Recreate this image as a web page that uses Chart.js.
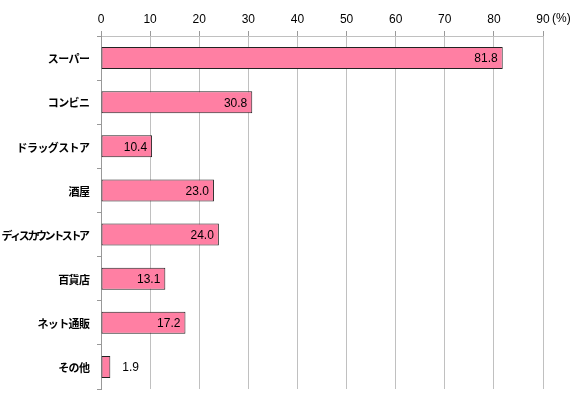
<!DOCTYPE html>
<html>
<head>
<meta charset="utf-8">
<script src="https://cdn.jsdelivr.net/npm/chart.js@4.4.0/dist/chart.umd.min.js"></script>
<style>
  html, body { margin: 0; padding: 0; background: #fff; }
  #wrap { position: relative; width: 576px; height: 394px; }
</style>
</head>
<body>
<div id="wrap"><canvas id="chart" width="576" height="394"></canvas></div>
<script>
const categories = ['スーパー', 'コンビニ', 'ドラッグストア', '酒屋', 'ディスカウントストア', '百貨店', 'ネット通販', 'その他'];
const values = [81.8, 30.8, 10.4, 23.0, 24.0, 13.1, 17.2, 1.9];
const xTicks = [0, 10, 20, 30, 40, 50, 60, 70, 80, 90];
const unitLabel = '(%)';

const numFont = '"Liberation Sans", Arial, sans-serif';
const jpFont = '"Noto Sans CJK JP", sans-serif';

// value labels at bar ends, inside unless the bar is too short
const barLabels = {
  id: 'barLabels',
  afterDatasetsDraw(chart) {
    const ctx = chart.ctx;
    const meta = chart.getDatasetMeta(0);
    ctx.save();
    ctx.font = '12px ' + numFont;
    ctx.fillStyle = '#000';
    ctx.textBaseline = 'middle';
    meta.data.forEach((bar, i) => {
      const txt = values[i].toFixed(1);
      const w = ctx.measureText(txt).width;
      const len = bar.x - bar.base;
      if (len > w + 12) {
        ctx.textAlign = 'right';
        ctx.fillText(txt, bar.x - 5, bar.y + 1);
      } else {
        ctx.textAlign = 'left';
        ctx.fillText(txt, bar.x + 12, bar.y + 1);
      }
    });
    // unit after the last tick
    const xs = chart.scales.x;
    ctx.textAlign = 'left';
    ctx.fillText(unitLabel, xs.getPixelForValue(90) + 9, 19);

    // category names, squeezed a little so the long one fits like the original
    const ys = chart.scales.y;
    const right = ys.right - 11;
    const maxW = 86;
    ctx.font = 'bold 11px ' + jpFont;
    categories.forEach((c, i) => {
      ctx.letterSpacing = '0px';
      const w0 = ctx.measureText(c).width;
      const n = [...c].length;
      let ls = -0.6;
      if (w0 + ls * n > maxW) ls = (maxW - w0) / n;
      ctx.letterSpacing = ls + 'px';
      const w = w0 + ls * (n - 1);
      ctx.fillText(c, right - w, ys.getPixelForValue(i) + 1);
    });
    ctx.restore();
  }
};

new Chart(document.getElementById('chart'), {
  type: 'bar',
  data: {
    labels: categories,
    datasets: [{
      data: values,
      backgroundColor: '#FF7FA3',
      borderColor: '#222',
      borderWidth: 1,
      borderSkipped: false,
      barPercentage: 0.5,
      categoryPercentage: 1.0
    }]
  },
  options: {
    indexAxis: 'y',
    responsive: false,
    animation: false,
    layout: { padding: { top: 0, right: 33, bottom: 5, left: 0 } },
    plugins: {
      legend: { display: false },
      tooltip: { enabled: false }
    },
    scales: {
      x: {
        position: 'top',
        min: 0,
        max: 90,
        afterBuildTicks(scale) { scale.ticks = xTicks.map(v => ({ value: v })); },
        afterFit(scale) { scale.height = 36; },
        ticks: {
          color: '#000',
          font: { family: numFont, size: 12 },
          padding: 4
        },
        grid: {
          color: '#c0c0c0',
          tickLength: 5,
          tickColor: '#999'
        },
        border: { color: '#c0c0c0' }
      },
      y: {
        afterFit(scale) { scale.width = 101; },
        ticks: { display: false },
        grid: {
          drawOnChartArea: false,
          tickLength: 4,
          tickColor: '#999'
        },
        border: { color: '#999' }
      }
    }
  },
  plugins: [barLabels]
});
</script>
</body>
</html>
